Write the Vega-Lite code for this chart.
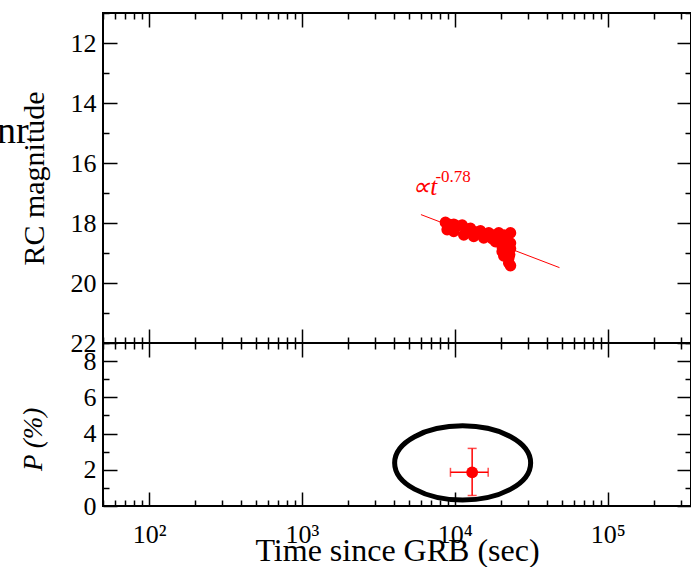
{
  "$schema": "https://vega.github.io/schema/vega-lite/v6.json",
  "background": "white",
  "padding": {"left": -5, "top": -1, "right": 0, "bottom": 0},
  "spacing": 0,
  "bounds": "flush",
  "config": {
    "font": "Liberation Serif",
    "view": {"stroke": "black", "strokeWidth": 2},
    "axis": {
      "grid": false, "domain": false, "tickColor": "black", "tickWidth": 1.5,
      "labelFont": "Liberation Serif", "labelFontSize": 26, "labelColor": "black",
      "titleFont": "Liberation Serif", "titleFontSize": 30, "titleFontWeight": "normal", "titleColor": "black",
      "labelOverlap": false, "labelFlush": false, "labelBound": false
    },
    "text": {"font": "Liberation Serif"}
  },
  "datasets": {
    "obs": [
      {"t": 8677, "mag": 17.98}, {"t": 8900, "mag": 18.22}, {"t": 9300, "mag": 18.05}, {"t": 9834, "mag": 18.04},
      {"t": 9834, "mag": 18.28}, {"t": 10400, "mag": 18.10}, {"t": 11160, "mag": 18.07}, {"t": 11440, "mag": 18.40},
      {"t": 11900, "mag": 18.20}, {"t": 12647, "mag": 18.18}, {"t": 13290, "mag": 18.45}, {"t": 13700, "mag": 18.30},
      {"t": 14300, "mag": 18.30}, {"t": 14700, "mag": 18.26}, {"t": 15450, "mag": 18.50}, {"t": 15900, "mag": 18.38},
      {"t": 16660, "mag": 18.33}, {"t": 17530, "mag": 18.52}, {"t": 18000, "mag": 18.40}, {"t": 18430, "mag": 18.62},
      {"t": 19360, "mag": 18.33}, {"t": 19800, "mag": 18.50}, {"t": 20380, "mag": 18.78}, {"t": 20380, "mag": 18.95},
      {"t": 21000, "mag": 18.40}, {"t": 21500, "mag": 18.60}, {"t": 22000, "mag": 19.00}, {"t": 22510, "mag": 19.17},
      {"t": 22510, "mag": 19.33}, {"t": 23100, "mag": 18.33}, {"t": 23100, "mag": 18.67}, {"t": 23100, "mag": 18.85},
      {"t": 23100, "mag": 19.42}, {"t": 22800, "mag": 19.05}, {"t": 21800, "mag": 18.80}, {"t": 20900, "mag": 19.10}
    ],
    "fit": [{"t": 6000, "mag": 17.72}, {"t": 48300, "mag": 19.487}],
    "ann": [{"t": 5255, "mag": 17.077, "label": "∝t"}],
    "sup": [{"t": 7465, "mag": 16.633, "label": "-0.78"}],
    "stray": [{"t": 16.3, "mag": 15.33, "label": "nr"}],
    "pol": [{"t": 12970, "P": 1.86, "tlo": 9355, "thi": 16510, "Plo": 0.58, "Phi": 3.18}],
    "ell": [{"t": 11240, "P": 2.38}]
  },
  "vconcat": [
    {
      "width": 588, "height": 330,
      "resolve": {"axis": {"x": "independent", "y": "independent"}},
      "layer": [
        {
          "data": {"name": "obs"},
          "mark": {"type": "circle", "color": "#ff0000", "opacity": 1, "size": 135},
          "encoding": {
            "x": {"field": "t", "type": "quantitative",
              "scale": {"type": "log", "domain": [50, 350000], "nice": false},
              "axis": {"orient": "bottom", "labels": false, "title": null,
                "values": [50,60,70,80,90,100,200,300,400,500,600,700,800,900,1000,2000,3000,4000,5000,6000,7000,8000,9000,10000,20000,30000,40000,50000,60000,70000,80000,90000,100000,200000,300000],
                "tickSize": {"condition": {"test": "datum.value == 100 || datum.value == 1000 || datum.value == 10000 || datum.value == 100000", "value": -14}, "value": -6}}},
            "y": {"field": "mag", "type": "quantitative",
              "scale": {"domain": [11, 22], "reverse": true, "nice": false, "zero": false},
              "axis": {"orient": "left", "values": [11,12,13,14,15,16,17,18,19,20,21,22],
                "labelExpr": "datum.value % 2 == 0 ? datum.label : ''", "labelPadding": 21,
                "labelFont": "Liberation Serif", "labelFontSize": 26,
                "tickSize": {"condition": {"test": "datum.value % 2 == 0", "value": -14}, "value": -6},
                "title": "RC magnitude", "titlePadding": 21}}
          }
        },
        {
          "data": {"name": "fit"},
          "mark": {"type": "line", "color": "#ff0000", "strokeWidth": 1},
          "encoding": {
            "x": {"field": "t", "type": "quantitative",
              "scale": {"type": "log", "domain": [50, 350000], "nice": false},
              "axis": {"orient": "top", "labels": false, "title": null,
                "values": [50,60,70,80,90,100,200,300,400,500,600,700,800,900,1000,2000,3000,4000,5000,6000,7000,8000,9000,10000,20000,30000,40000,50000,60000,70000,80000,90000,100000,200000,300000],
                "tickSize": {"condition": {"test": "datum.value == 100 || datum.value == 1000 || datum.value == 10000 || datum.value == 100000", "value": -14}, "value": -6}}},
            "y": {"field": "mag", "type": "quantitative",
              "scale": {"domain": [11, 22], "reverse": true, "nice": false, "zero": false},
              "axis": {"orient": "right", "labels": false, "title": null, "values": [11,12,13,14,15,16,17,18,19,20,21,22],
                "tickSize": {"condition": {"test": "datum.value % 2 == 0", "value": -14}, "value": -6}}}
          }
        },
        {
          "data": {"name": "ann"},
          "mark": {"type": "text", "color": "#ff0000", "fontSize": 25, "align": "left", "baseline": "alphabetic", "font": "Liberation Serif", "fontStyle": "italic"},
          "encoding": {
            "x": {"field": "t", "type": "quantitative", "scale": {"type": "log", "domain": [50, 350000], "nice": false}, "axis": null},
            "y": {"field": "mag", "type": "quantitative", "scale": {"domain": [11, 22], "reverse": true, "nice": false, "zero": false}, "axis": null},
            "text": {"field": "label"}
          }
        },
        {
          "data": {"name": "sup"},
          "mark": {"type": "text", "color": "#ff0000", "fontSize": 17, "align": "left", "baseline": "alphabetic", "font": "Liberation Serif"},
          "encoding": {
            "x": {"field": "t", "type": "quantitative", "scale": {"type": "log", "domain": [50, 350000], "nice": false}, "axis": null},
            "y": {"field": "mag", "type": "quantitative", "scale": {"domain": [11, 22], "reverse": true, "nice": false, "zero": false}, "axis": null},
            "text": {"field": "label"}
          }
        },
        {
          "data": {"name": "stray"},
          "mark": {"type": "text", "color": "black", "fontSize": 38, "align": "right", "baseline": "alphabetic", "font": "Liberation Serif"},
          "encoding": {
            "x": {"field": "t", "type": "quantitative", "scale": {"type": "log", "domain": [50, 350000], "nice": false}, "axis": null},
            "y": {"field": "mag", "type": "quantitative", "scale": {"domain": [11, 22], "reverse": true, "nice": false, "zero": false}, "axis": null},
            "text": {"field": "label"}
          }
        }
      ]
    },
    {
      "width": 588, "height": 163,
      "resolve": {"axis": {"x": "independent", "y": "independent"}},
      "layer": [
        {
          "data": {"name": "ell"},
          "mark": {"type": "point", "filled": false, "stroke": "black", "strokeWidth": 5, "opacity": 1,
            "shape": "M -1 0 C -1 -0.301 -0.5523 -0.545 0 -0.545 C 0.5523 -0.545 1 -0.301 1 0 C 1 0.301 0.5523 0.545 0 0.545 C -0.5523 0.545 -1 0.301 -1 0 Z",
            "size": 18496},
          "encoding": {
            "x": {"field": "t", "type": "quantitative",
              "scale": {"type": "log", "domain": [50, 350000], "nice": false},
              "axis": {"orient": "bottom", "labelPadding": 29, "labelFont": "Liberation Serif", "labelFontSize": 26,
                "title": "Time since GRB (sec)", "titleFontSize": 32, "titlePadding": -20,
                "values": [50,60,70,80,90,100,200,300,400,500,600,700,800,900,1000,2000,3000,4000,5000,6000,7000,8000,9000,10000,20000,30000,40000,50000,60000,70000,80000,90000,100000,200000,300000],
                "labelExpr": "datum.value == 100 ? '10\u00b2' : datum.value == 1000 ? '10\u00b3' : datum.value == 10000 ? '10\u2074' : datum.value == 100000 ? '10\u2075' : ''",
                "tickSize": {"condition": {"test": "datum.value == 100 || datum.value == 1000 || datum.value == 10000 || datum.value == 100000", "value": -14}, "value": -6}}},
            "y": {"field": "P", "type": "quantitative",
              "scale": {"domain": [0, 9], "nice": false, "zero": false},
              "axis": {"orient": "left", "values": [0,1,2,3,4,5,6,7,8,9],
                "labelExpr": "datum.value % 2 == 0 ? datum.label : ''", "labelPadding": 21,
                "labelFont": "Liberation Serif", "labelFontSize": 26,
                "tickSize": {"condition": {"test": "datum.value % 2 == 0", "value": -14}, "value": -6},
                "title": "P (%)", "titleFontStyle": "italic", "titleFontSize": 27, "titlePadding": 36, "titleY": 96}}
          }
        },
        {
          "data": {"name": "pol"},
          "mark": {"type": "rule", "color": "#ff0000", "strokeWidth": 1.5},
          "encoding": {
            "x": {"field": "tlo", "type": "quantitative",
              "scale": {"type": "log", "domain": [50, 350000], "nice": false},
              "axis": {"orient": "top", "labels": false, "title": null,
                "values": [50,60,70,80,90,100,200,300,400,500,600,700,800,900,1000,2000,3000,4000,5000,6000,7000,8000,9000,10000,20000,30000,40000,50000,60000,70000,80000,90000,100000,200000,300000],
                "tickSize": {"condition": {"test": "datum.value == 100 || datum.value == 1000 || datum.value == 10000 || datum.value == 100000", "value": -14}, "value": -6}}},
            "x2": {"field": "thi"},
            "y": {"field": "P", "type": "quantitative",
              "scale": {"domain": [0, 9], "nice": false, "zero": false},
              "axis": {"orient": "right", "labels": false, "title": null, "values": [0,1,2,3,4,5,6,7,8,9],
                "tickSize": {"condition": {"test": "datum.value % 2 == 0", "value": -14}, "value": -6}}}
          }
        },
        {
          "data": {"name": "pol"},
          "mark": {"type": "rule", "color": "#ff0000", "strokeWidth": 1.5},
          "encoding": {
            "x": {"field": "t", "type": "quantitative", "scale": {"type": "log", "domain": [50, 350000], "nice": false}, "axis": null},
            "y": {"field": "Plo", "type": "quantitative", "scale": {"domain": [0, 9], "nice": false, "zero": false}, "axis": null},
            "y2": {"field": "Phi"}
          }
        },
        {
          "data": {"name": "pol"},
          "mark": {"type": "tick", "color": "#ff0000", "orient": "vertical", "size": 9, "thickness": 1.5},
          "encoding": {
            "x": {"field": "tlo", "type": "quantitative", "scale": {"type": "log", "domain": [50, 350000], "nice": false}, "axis": null},
            "y": {"field": "P", "type": "quantitative", "scale": {"domain": [0, 9], "nice": false, "zero": false}, "axis": null}
          }
        },
        {
          "data": {"name": "pol"},
          "mark": {"type": "tick", "color": "#ff0000", "orient": "vertical", "size": 9, "thickness": 1.5},
          "encoding": {
            "x": {"field": "thi", "type": "quantitative", "scale": {"type": "log", "domain": [50, 350000], "nice": false}, "axis": null},
            "y": {"field": "P", "type": "quantitative", "scale": {"domain": [0, 9], "nice": false, "zero": false}, "axis": null}
          }
        },
        {
          "data": {"name": "pol"},
          "mark": {"type": "tick", "color": "#ff0000", "orient": "horizontal", "size": 9, "thickness": 1.5},
          "encoding": {
            "x": {"field": "t", "type": "quantitative", "scale": {"type": "log", "domain": [50, 350000], "nice": false}, "axis": null},
            "y": {"field": "Plo", "type": "quantitative", "scale": {"domain": [0, 9], "nice": false, "zero": false}, "axis": null}
          }
        },
        {
          "data": {"name": "pol"},
          "mark": {"type": "tick", "color": "#ff0000", "orient": "horizontal", "size": 9, "thickness": 1.5},
          "encoding": {
            "x": {"field": "t", "type": "quantitative", "scale": {"type": "log", "domain": [50, 350000], "nice": false}, "axis": null},
            "y": {"field": "Phi", "type": "quantitative", "scale": {"domain": [0, 9], "nice": false, "zero": false}, "axis": null}
          }
        },
        {
          "data": {"name": "pol"},
          "mark": {"type": "circle", "color": "#ff0000", "opacity": 1, "size": 140},
          "encoding": {
            "x": {"field": "t", "type": "quantitative", "scale": {"type": "log", "domain": [50, 350000], "nice": false}, "axis": null},
            "y": {"field": "P", "type": "quantitative", "scale": {"domain": [0, 9], "nice": false, "zero": false}, "axis": null}
          }
        }
      ]
    }
  ]
}
